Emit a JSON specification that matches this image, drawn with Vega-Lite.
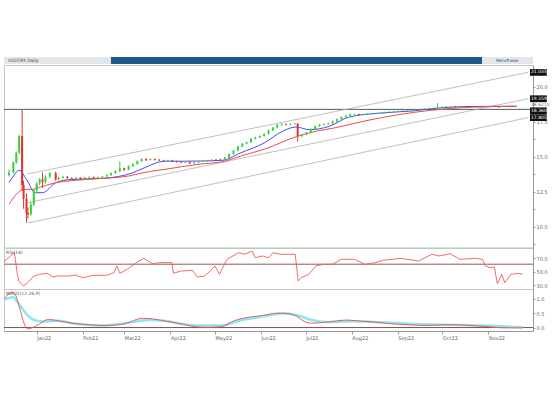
{
"$schema": "https://vega.github.io/schema/vega-lite/v6.json",
"padding": {"left": -2, "top": 57, "right": 0, "bottom": 0},
"background": "white",
"spacing": 0,
"config": {
  "font": "DejaVu Sans",
  "view": {"stroke": "#c4c4c4"},
  "axis": {"labelFontSize": 5, "labelColor": "#666666", "tickColor": "#999999", "domainColor": "#999999", "tickSize": 2, "grid": false, "title": null, "labelPadding": 1, "labelOverlap": false, "labelFlush": false}
},
"datasets": {
  "candles": [
    {"d":"2021-12-10","o":13.7,"h":14.1,"l":13.6,"c":13.9},
    {"d":"2021-12-13","o":13.9,"h":14.7,"l":13.8,"c":14.6},
    {"d":"2021-12-15","o":14.6,"h":15.4,"l":14.5,"c":15.3},
    {"d":"2021-12-17","o":15.3,"h":16.6,"l":15.2,"c":16.5},
    {"d":"2021-12-19","o":16.5,"h":18.36,"l":12.6,"c":13.0},
    {"d":"2021-12-20","o":13.0,"h":13.3,"l":11.3,"c":12.0},
    {"d":"2021-12-22","o":12.0,"h":12.4,"l":10.3,"c":11.0},
    {"d":"2021-12-23","o":11.0,"h":11.4,"l":10.6,"c":10.9},
    {"d":"2021-12-25","o":10.9,"h":11.8,"l":10.8,"c":11.6},
    {"d":"2021-12-27","o":11.6,"h":12.7,"l":11.5,"c":12.6},
    {"d":"2021-12-29","o":12.6,"h":13.2,"l":12.4,"c":13.1},
    {"d":"2021-12-31","o":13.1,"h":13.5,"l":13.0,"c":13.4},
    {"d":"2022-01-02","o":13.4,"h":13.9,"l":12.8,"c":13.2},
    {"d":"2022-01-04","o":13.2,"h":13.7,"l":13.1,"c":13.6},
    {"d":"2022-01-07","o":13.6,"h":13.9,"l":13.5,"c":13.85},
    {"d":"2022-01-11","o":13.85,"h":13.95,"l":13.3,"c":13.4},
    {"d":"2022-01-13","o":13.4,"h":13.6,"l":13.35,"c":13.5},
    {"d":"2022-01-16","o":13.5,"h":13.65,"l":13.45,"c":13.58},
    {"d":"2022-01-19","o":13.58,"h":13.65,"l":13.45,"c":13.5},
    {"d":"2022-01-22","o":13.5,"h":13.55,"l":13.4,"c":13.45},
    {"d":"2022-01-25","o":13.45,"h":13.58,"l":13.4,"c":13.52},
    {"d":"2022-01-28","o":13.52,"h":13.55,"l":13.38,"c":13.43},
    {"d":"2022-01-31","o":13.43,"h":13.58,"l":13.4,"c":13.52},
    {"d":"2022-02-03","o":13.52,"h":13.62,"l":13.48,"c":13.56},
    {"d":"2022-02-06","o":13.56,"h":13.6,"l":13.45,"c":13.5},
    {"d":"2022-02-09","o":13.5,"h":13.6,"l":13.47,"c":13.56},
    {"d":"2022-02-12","o":13.56,"h":13.66,"l":13.52,"c":13.61},
    {"d":"2022-02-15","o":13.61,"h":13.75,"l":13.58,"c":13.7},
    {"d":"2022-02-18","o":13.7,"h":13.9,"l":13.66,"c":13.85},
    {"d":"2022-02-21","o":13.85,"h":14.05,"l":13.8,"c":14.0},
    {"d":"2022-02-24","o":14.0,"h":14.7,"l":13.9,"c":14.2},
    {"d":"2022-02-27","o":14.2,"h":14.25,"l":14.0,"c":14.1},
    {"d":"2022-03-02","o":14.1,"h":14.4,"l":14.05,"c":14.35},
    {"d":"2022-03-05","o":14.35,"h":14.55,"l":14.3,"c":14.5},
    {"d":"2022-03-08","o":14.5,"h":14.75,"l":14.45,"c":14.7},
    {"d":"2022-03-11","o":14.7,"h":14.9,"l":14.65,"c":14.85},
    {"d":"2022-03-14","o":14.85,"h":14.9,"l":14.72,"c":14.78},
    {"d":"2022-03-17","o":14.78,"h":14.9,"l":14.75,"c":14.86},
    {"d":"2022-03-20","o":14.86,"h":14.9,"l":14.75,"c":14.8},
    {"d":"2022-03-23","o":14.8,"h":14.85,"l":14.7,"c":14.75},
    {"d":"2022-03-26","o":14.75,"h":14.8,"l":14.65,"c":14.7},
    {"d":"2022-03-29","o":14.7,"h":14.8,"l":14.66,"c":14.76},
    {"d":"2022-04-01","o":14.76,"h":14.8,"l":14.65,"c":14.7},
    {"d":"2022-04-04","o":14.7,"h":14.74,"l":14.6,"c":14.65},
    {"d":"2022-04-07","o":14.65,"h":14.7,"l":14.55,"c":14.6},
    {"d":"2022-04-10","o":14.6,"h":14.68,"l":14.55,"c":14.64},
    {"d":"2022-04-13","o":14.64,"h":14.66,"l":14.5,"c":14.55},
    {"d":"2022-04-16","o":14.55,"h":14.65,"l":14.52,"c":14.6},
    {"d":"2022-04-19","o":14.6,"h":14.7,"l":14.56,"c":14.65},
    {"d":"2022-04-22","o":14.65,"h":14.75,"l":14.62,"c":14.7},
    {"d":"2022-04-25","o":14.7,"h":14.8,"l":14.66,"c":14.75},
    {"d":"2022-04-28","o":14.75,"h":14.85,"l":14.7,"c":14.8},
    {"d":"2022-05-01","o":14.8,"h":14.86,"l":14.74,"c":14.78},
    {"d":"2022-05-04","o":14.78,"h":14.9,"l":14.75,"c":14.85},
    {"d":"2022-05-07","o":14.85,"h":15.0,"l":14.8,"c":14.95},
    {"d":"2022-05-10","o":14.95,"h":15.25,"l":14.9,"c":15.2},
    {"d":"2022-05-13","o":15.2,"h":15.5,"l":15.15,"c":15.45},
    {"d":"2022-05-16","o":15.45,"h":15.8,"l":15.4,"c":15.75},
    {"d":"2022-05-19","o":15.75,"h":16.0,"l":15.7,"c":15.95},
    {"d":"2022-05-22","o":15.95,"h":16.1,"l":15.9,"c":16.05},
    {"d":"2022-05-25","o":16.05,"h":16.35,"l":16.0,"c":16.3},
    {"d":"2022-05-28","o":16.3,"h":16.45,"l":16.25,"c":16.4},
    {"d":"2022-05-31","o":16.4,"h":16.55,"l":16.35,"c":16.5},
    {"d":"2022-06-03","o":16.5,"h":16.7,"l":16.45,"c":16.65},
    {"d":"2022-06-06","o":16.65,"h":16.95,"l":16.6,"c":16.9},
    {"d":"2022-06-09","o":16.9,"h":17.15,"l":16.85,"c":17.1},
    {"d":"2022-06-12","o":17.1,"h":17.35,"l":17.05,"c":17.3},
    {"d":"2022-06-15","o":17.3,"h":17.42,"l":17.25,"c":17.35},
    {"d":"2022-06-18","o":17.35,"h":17.4,"l":17.25,"c":17.3},
    {"d":"2022-06-21","o":17.3,"h":17.4,"l":17.26,"c":17.35},
    {"d":"2022-06-24","o":17.35,"h":17.42,"l":17.3,"c":17.38},
    {"d":"2022-06-26","o":17.38,"h":17.4,"l":16.1,"c":16.5},
    {"d":"2022-06-29","o":16.5,"h":16.65,"l":16.4,"c":16.6},
    {"d":"2022-07-02","o":16.6,"h":16.8,"l":16.55,"c":16.75},
    {"d":"2022-07-05","o":16.75,"h":17.05,"l":16.7,"c":17.0},
    {"d":"2022-07-08","o":17.0,"h":17.25,"l":16.95,"c":17.2},
    {"d":"2022-07-11","o":17.2,"h":17.35,"l":17.15,"c":17.3},
    {"d":"2022-07-14","o":17.3,"h":17.4,"l":17.26,"c":17.35},
    {"d":"2022-07-17","o":17.35,"h":17.45,"l":17.3,"c":17.4},
    {"d":"2022-07-20","o":17.4,"h":17.6,"l":17.36,"c":17.55},
    {"d":"2022-07-23","o":17.55,"h":17.75,"l":17.5,"c":17.7},
    {"d":"2022-07-26","o":17.7,"h":17.9,"l":17.65,"c":17.85},
    {"d":"2022-07-29","o":17.85,"h":18.0,"l":17.8,"c":17.95},
    {"d":"2022-08-01","o":17.95,"h":18.1,"l":17.9,"c":18.05},
    {"d":"2022-08-04","o":18.05,"h":18.1,"l":17.98,"c":18.06},
    {"d":"2022-08-07","o":18.06,"h":18.08,"l":17.95,"c":18.0},
    {"d":"2022-08-10","o":18.0,"h":18.1,"l":17.97,"c":18.05},
    {"d":"2022-08-13","o":18.05,"h":18.14,"l":18.02,"c":18.1},
    {"d":"2022-08-16","o":18.1,"h":18.14,"l":18.05,"c":18.11},
    {"d":"2022-08-19","o":18.11,"h":18.16,"l":18.06,"c":18.12},
    {"d":"2022-08-22","o":18.12,"h":18.18,"l":18.08,"c":18.15},
    {"d":"2022-08-25","o":18.15,"h":18.24,"l":18.12,"c":18.2},
    {"d":"2022-08-28","o":18.2,"h":18.26,"l":18.17,"c":18.22},
    {"d":"2022-08-31","o":18.22,"h":18.29,"l":18.19,"c":18.25},
    {"d":"2022-09-03","o":18.25,"h":18.32,"l":18.22,"c":18.28},
    {"d":"2022-09-06","o":18.28,"h":18.34,"l":18.25,"c":18.3},
    {"d":"2022-09-09","o":18.3,"h":18.37,"l":18.27,"c":18.33},
    {"d":"2022-09-12","o":18.33,"h":18.4,"l":18.3,"c":18.36},
    {"d":"2022-09-15","o":18.36,"h":18.42,"l":18.33,"c":18.38},
    {"d":"2022-09-18","o":18.38,"h":18.46,"l":18.35,"c":18.42},
    {"d":"2022-09-21","o":18.42,"h":18.49,"l":18.39,"c":18.45},
    {"d":"2022-09-24","o":18.45,"h":18.52,"l":18.42,"c":18.48},
    {"d":"2022-09-27","o":18.48,"h":18.54,"l":18.45,"c":18.5},
    {"d":"2022-09-30","o":18.5,"h":18.85,"l":18.45,"c":18.55},
    {"d":"2022-10-03","o":18.55,"h":18.62,"l":18.52,"c":18.58},
    {"d":"2022-10-06","o":18.58,"h":18.64,"l":18.55,"c":18.6},
    {"d":"2022-10-09","o":18.6,"h":18.64,"l":18.56,"c":18.61},
    {"d":"2022-10-12","o":18.61,"h":18.63,"l":18.54,"c":18.57},
    {"d":"2022-10-15","o":18.57,"h":18.63,"l":18.55,"c":18.6},
    {"d":"2022-10-18","o":18.6,"h":18.64,"l":18.56,"c":18.61},
    {"d":"2022-10-21","o":18.61,"h":18.65,"l":18.57,"c":18.59},
    {"d":"2022-10-24","o":18.59,"h":18.66,"l":18.58,"c":18.62},
    {"d":"2022-10-27","o":18.62,"h":18.64,"l":18.56,"c":18.59},
    {"d":"2022-10-30","o":18.59,"h":18.63,"l":18.55,"c":18.57},
    {"d":"2022-11-02","o":18.57,"h":18.64,"l":18.56,"c":18.61},
    {"d":"2022-11-05","o":18.61,"h":18.66,"l":18.58,"c":18.62},
    {"d":"2022-11-08","o":18.62,"h":18.66,"l":18.57,"c":18.6},
    {"d":"2022-11-11","o":18.6,"h":18.64,"l":18.5,"c":18.57},
    {"d":"2022-11-14","o":18.57,"h":18.64,"l":18.56,"c":18.62},
    {"d":"2022-11-17","o":18.62,"h":18.66,"l":18.59,"c":18.63},
    {"d":"2022-11-20","o":18.63,"h":18.66,"l":18.58,"c":18.61},
    {"d":"2022-11-23","o":18.61,"h":18.66,"l":18.59,"c":18.63}
  ],
  "ma": [
    {"s":"fast","d":"2021-12-10","v":13.16},{"s":"fast","d":"2021-12-13","v":13.64},{"s":"fast","d":"2021-12-17","v":14.05},
    {"s":"fast","d":"2021-12-22","v":13.4},{"s":"fast","d":"2021-12-28","v":12.45},{"s":"fast","d":"2022-01-02","v":12.45},
    {"s":"fast","d":"2022-01-11","v":13.16},{"s":"fast","d":"2022-01-22","v":13.4},{"s":"fast","d":"2022-02-13","v":13.48},
    {"s":"fast","d":"2022-03-05","v":13.88},{"s":"fast","d":"2022-03-12","v":14.19},{"s":"fast","d":"2022-03-27","v":14.7},
    {"s":"fast","d":"2022-04-10","v":14.7},{"s":"fast","d":"2022-05-05","v":14.76},{"s":"fast","d":"2022-05-18","v":15.3},
    {"s":"fast","d":"2022-06-03","v":16.0},{"s":"fast","d":"2022-06-16","v":16.86},{"s":"fast","d":"2022-06-25","v":17.14},
    {"s":"fast","d":"2022-07-04","v":16.95},{"s":"fast","d":"2022-07-18","v":17.2},{"s":"fast","d":"2022-07-31","v":17.85},
    {"s":"fast","d":"2022-08-22","v":18.14},{"s":"fast","d":"2022-09-14","v":18.3},{"s":"fast","d":"2022-09-29","v":18.48},
    {"s":"fast","d":"2022-10-18","v":18.6},{"s":"fast","d":"2022-11-09","v":18.62},{"s":"fast","d":"2022-11-23","v":18.62},
    {"s":"slow","d":"2021-12-10","v":11.62},{"s":"slow","d":"2021-12-15","v":12.33},{"s":"slow","d":"2021-12-20","v":12.69},
    {"s":"slow","d":"2021-12-26","v":12.69},{"s":"slow","d":"2021-12-30","v":12.81},{"s":"slow","d":"2022-01-11","v":13.16},
    {"s":"slow","d":"2022-02-02","v":13.4},{"s":"slow","d":"2022-03-02","v":13.64},{"s":"slow","d":"2022-03-12","v":13.88},
    {"s":"slow","d":"2022-03-27","v":14.12},{"s":"slow","d":"2022-04-19","v":14.48},{"s":"slow","d":"2022-05-07","v":14.7},
    {"s":"slow","d":"2022-05-18","v":15.07},{"s":"slow","d":"2022-06-03","v":15.55},{"s":"slow","d":"2022-06-25","v":16.45},
    {"s":"slow","d":"2022-07-09","v":16.85},{"s":"slow","d":"2022-07-20","v":17.05},{"s":"slow","d":"2022-08-11","v":17.57},
    {"s":"slow","d":"2022-09-03","v":18.02},{"s":"slow","d":"2022-09-25","v":18.33},{"s":"slow","d":"2022-10-18","v":18.53},
    {"s":"slow","d":"2022-11-09","v":18.6},{"s":"slow","d":"2022-11-23","v":18.62}
  ],
  "channel": [
    {"k":"upper","d":"2021-12-23","v":13.79},{"k":"upper","d":"2022-12-01","v":21.04},
    {"k":"middle","d":"2021-12-23","v":11.74},{"k":"middle","d":"2022-12-01","v":19.16},
    {"k":"lower","d":"2021-12-23","v":10.29},{"k":"lower","d":"2022-12-01","v":17.81}
  ],
  "tags": [
    {"t":"21.0356","v":21.04},{"t":"19.1595","v":19.16},{"t":"18.3600","v":18.3},{"t":"17.8057","v":17.81}
  ],
  "price": [{"t":"18.6215","v":18.72}],
  "rsi": [
    {"d":"2021-12-10","v":64.7},{"d":"2021-12-17","v":77.9},{"d":"2021-12-19","v":46.2},{"d":"2021-12-20","v":36.4},
    {"d":"2021-12-23","v":29},{"d":"2021-12-26","v":33.9},{"d":"2021-12-30","v":43.7},{"d":"2022-01-03","v":46.2},
    {"d":"2022-01-08","v":47.6},{"d":"2022-01-12","v":42.2},{"d":"2022-01-15","v":43.7},{"d":"2022-01-22","v":43.7},
    {"d":"2022-01-27","v":45.2},{"d":"2022-02-01","v":41.2},{"d":"2022-02-08","v":44.7},{"d":"2022-02-17","v":44.7},
    {"d":"2022-02-22","v":48.6},{"d":"2022-02-24","v":58.4},{"d":"2022-02-26","v":47.6},{"d":"2022-03-03","v":53.5},
    {"d":"2022-03-10","v":64.7},{"d":"2022-03-14","v":69.6},{"d":"2022-03-20","v":61.8},{"d":"2022-03-25","v":63.3},
    {"d":"2022-03-30","v":63.3},{"d":"2022-04-02","v":63.3},{"d":"2022-04-03","v":47.6},{"d":"2022-04-08","v":51},
    {"d":"2022-04-16","v":52},{"d":"2022-04-19","v":42.2},{"d":"2022-04-24","v":43.7},{"d":"2022-04-29","v":53.5},
    {"d":"2022-05-01","v":58.4},{"d":"2022-05-04","v":46.2},{"d":"2022-05-09","v":68.1},{"d":"2022-05-17","v":77.9},
    {"d":"2022-05-21","v":75.5},{"d":"2022-05-26","v":80.3},{"d":"2022-05-28","v":70.5},{"d":"2022-06-02","v":73},
    {"d":"2022-06-06","v":70.5},{"d":"2022-06-09","v":77.9},{"d":"2022-06-14","v":75.5},{"d":"2022-06-24","v":75.5},
    {"d":"2022-06-26","v":36.4},{"d":"2022-06-28","v":41.2},{"d":"2022-07-03","v":46.2},{"d":"2022-07-08","v":58.4},
    {"d":"2022-07-13","v":60.8},{"d":"2022-07-19","v":60.8},{"d":"2022-07-25","v":68.1},{"d":"2022-08-03","v":68.1},
    {"d":"2022-08-10","v":60.8},{"d":"2022-08-17","v":63.3},{"d":"2022-08-22","v":66.7},{"d":"2022-09-03","v":69.6},
    {"d":"2022-09-15","v":65.7},{"d":"2022-09-24","v":75.5},{"d":"2022-09-29","v":73},{"d":"2022-10-06","v":76.4},
    {"d":"2022-10-13","v":68.1},{"d":"2022-10-23","v":69.6},{"d":"2022-10-28","v":68.1},{"d":"2022-10-30","v":58.4},
    {"d":"2022-11-02","v":55.9},{"d":"2022-11-05","v":56.9},{"d":"2022-11-07","v":32.4},{"d":"2022-11-10","v":46.2},
    {"d":"2022-11-12","v":33.9},{"d":"2022-11-16","v":46.2},{"d":"2022-11-21","v":47.6},{"d":"2022-11-24","v":46.2}
  ],
  "macd": [
    {"s":"macd","d":"2021-12-10","v":1.0},{"s":"macd","d":"2021-12-16","v":1.23},{"s":"macd","d":"2021-12-26","v":-0.05},
    {"s":"macd","d":"2022-01-01","v":0.07},{"s":"macd","d":"2022-01-09","v":0.28},{"s":"macd","d":"2022-01-15","v":0.24},
    {"s":"macd","d":"2022-01-25","v":0.15},{"s":"macd","d":"2022-02-06","v":0.1},{"s":"macd","d":"2022-02-17","v":0.07},
    {"s":"macd","d":"2022-03-01","v":0.13},{"s":"macd","d":"2022-03-13","v":0.32},{"s":"macd","d":"2022-03-20","v":0.3},
    {"s":"macd","d":"2022-03-30","v":0.21},{"s":"macd","d":"2022-04-06","v":0.15},{"s":"macd","d":"2022-04-18","v":0.03},
    {"s":"macd","d":"2022-04-25","v":0.01},{"s":"macd","d":"2022-05-05","v":0.03},{"s":"macd","d":"2022-05-14","v":0.24},
    {"s":"macd","d":"2022-05-24","v":0.36},{"s":"macd","d":"2022-06-02","v":0.42},{"s":"macd","d":"2022-06-12","v":0.5},
    {"s":"macd","d":"2022-06-19","v":0.48},{"s":"macd","d":"2022-06-24","v":0.42},{"s":"macd","d":"2022-07-01","v":0.19},
    {"s":"macd","d":"2022-07-05","v":0.15},{"s":"macd","d":"2022-07-15","v":0.19},{"s":"macd","d":"2022-07-29","v":0.26},
    {"s":"macd","d":"2022-08-08","v":0.22},{"s":"macd","d":"2022-08-17","v":0.19},{"s":"macd","d":"2022-08-27","v":0.13},
    {"s":"macd","d":"2022-09-08","v":0.1},{"s":"macd","d":"2022-09-20","v":0.07},{"s":"macd","d":"2022-10-06","v":0.1},
    {"s":"macd","d":"2022-10-21","v":0.07},{"s":"macd","d":"2022-11-01","v":0.03},{"s":"macd","d":"2022-11-11","v":-0.01},
    {"s":"macd","d":"2022-11-24","v":-0.01},
    {"s":"signal","d":"2021-12-10","v":0.96},{"s":"signal","d":"2021-12-16","v":1.05},{"s":"signal","d":"2021-12-20","v":0.82},
    {"s":"signal","d":"2021-12-26","v":0.42},{"s":"signal","d":"2022-01-01","v":0.24},{"s":"signal","d":"2022-01-08","v":0.21},
    {"s":"signal","d":"2022-01-15","v":0.24},{"s":"signal","d":"2022-01-25","v":0.15},{"s":"signal","d":"2022-02-13","v":0.07},
    {"s":"signal","d":"2022-02-27","v":0.13},{"s":"signal","d":"2022-03-18","v":0.26},{"s":"signal","d":"2022-03-28","v":0.24},
    {"s":"signal","d":"2022-04-06","v":0.15},{"s":"signal","d":"2022-04-20","v":0.07},{"s":"signal","d":"2022-05-05","v":0.07},
    {"s":"signal","d":"2022-05-19","v":0.26},{"s":"signal","d":"2022-06-02","v":0.38},{"s":"signal","d":"2022-06-16","v":0.5},
    {"s":"signal","d":"2022-06-26","v":0.42},{"s":"signal","d":"2022-07-05","v":0.26},{"s":"signal","d":"2022-07-15","v":0.19},
    {"s":"signal","d":"2022-08-03","v":0.22},{"s":"signal","d":"2022-08-17","v":0.19},{"s":"signal","d":"2022-09-08","v":0.13},
    {"s":"signal","d":"2022-10-03","v":0.1},{"s":"signal","d":"2022-11-01","v":0.07},{"s":"signal","d":"2022-11-24","v":0.01}
  ]
},
"vconcat": [
  {
    "hconcat": [
      {
        "width": 107, "height": 7,
        "view": {"fill": "#e4e6e9", "stroke": null},
        "data": {"values": [{"t": "USDTRY,Daily"}]},
        "mark": {"type": "text", "fontSize": 4.5, "color": "#444444", "align": "left", "baseline": "middle", "x": 4, "y": 3.5},
        "encoding": {"text": {"field": "t"}}
      },
      {
        "width": 371, "height": 7,
        "view": {"fill": "#1d5a88", "stroke": null},
        "data": {"values": [{"t": ""}]},
        "mark": {"type": "text", "fontSize": 5, "color": "#ffffff"},
        "encoding": {"text": {"field": "t"}}
      },
      {
        "width": 51, "height": 7,
        "view": {"fill": "#e4e6e9", "stroke": null},
        "data": {"values": [{"t": "MetaTrader"}]},
        "mark": {"type": "text", "fontSize": 4, "color": "#335577", "align": "center", "baseline": "middle"},
        "encoding": {"text": {"field": "t"}}
      }
    ],
    "spacing": 0,
    "bounds": "flush"
  },
  {
    "spacing": 0,
    "bounds": "flush",
    "vconcat": [
      {
        "width": 529, "height": 183,
        "layer": [
          {
            "data": {"values": [{"level": 18.4}]},
            "mark": {"type": "rule", "color": "#5a5a5a", "strokeWidth": 1},
            "encoding": {"y": {"field": "level", "type": "quantitative", "scale": {"domain": [8.5, 21.57], "nice": false, "zero": false},
              "axis": {"orient": "right", "labelOverlap": false, "tickCount": 30, "values": [8.75, 10, 11.25, 12.5, 13.75, 15, 16.25, 17.5, 18.75, 20, 21.25], "labelExpr": "datum.value % 2.5 == 0 ? format(datum.value, '.1f') : ''"}}}
          },
          {
            "data": {"name": "channel"},
            "mark": {"type": "line", "color": "#b0b0b0", "strokeWidth": 0.8},
            "encoding": {
              "x": {"field": "d", "type": "temporal", "scale": {"type": "utc", "domain": [{"year": 2021, "month": 12, "date": 10, "utc": true}, {"year": 2022, "month": 12, "date": 1, "utc": true}]}, "axis": null},
              "y": {"field": "v", "type": "quantitative", "scale": {"domain": [8.5, 21.57], "nice": false, "zero": false}},
              "detail": {"field": "k"}
            }
          },
          {
            "data": {"name": "ma"},
            "mark": {"type": "line", "strokeWidth": 1, "interpolate": "monotone"},
            "encoding": {
              "x": {"field": "d", "type": "temporal", "scale": {"type": "utc", "domain": [{"year": 2021, "month": 12, "date": 10, "utc": true}, {"year": 2022, "month": 12, "date": 1, "utc": true}]}, "axis": null},
              "y": {"field": "v", "type": "quantitative", "scale": {"domain": [8.5, 21.57], "nice": false, "zero": false}},
              "color": {"field": "s", "type": "nominal", "scale": {"domain": ["fast", "slow"], "range": ["#3d4ef0", "#f04a4a"]}, "legend": null}
            }
          },
          {
            "data": {"name": "candles"},
            "mark": {"type": "rule", "strokeWidth": 1, "clip": true},
            "encoding": {
              "x": {"field": "d", "type": "temporal", "scale": {"type": "utc", "domain": [{"year": 2021, "month": 12, "date": 10, "utc": true}, {"year": 2022, "month": 12, "date": 1, "utc": true}]}, "axis": null},
              "y": {"field": "l", "type": "quantitative", "scale": {"domain": [8.5, 21.57], "nice": false, "zero": false}},
              "y2": {"field": "h"},
              "color": {"condition": {"test": "datum.c >= datum.o", "value": "#3ad03a"}, "value": "#e03232"}
            }
          },
          {
            "data": {"name": "candles"},
            "mark": {"type": "bar", "size": 2, "clip": true},
            "encoding": {
              "x": {"field": "d", "type": "temporal", "scale": {"type": "utc", "domain": [{"year": 2021, "month": 12, "date": 10, "utc": true}, {"year": 2022, "month": 12, "date": 1, "utc": true}]}, "axis": null},
              "y": {"field": "o", "type": "quantitative", "scale": {"domain": [8.5, 21.57], "nice": false, "zero": false}},
              "y2": {"field": "c"},
              "color": {"condition": {"test": "datum.c >= datum.o", "value": "#3ad03a"}, "value": "#e03232"}
            }
          },
          {
            "data": {"values": [{"level": 8.5}]},
            "mark": {"type": "rule", "color": "#98d898", "strokeWidth": 1.2},
            "encoding": {"y": {"field": "level", "type": "quantitative", "scale": {"domain": [8.5, 21.57], "nice": false, "zero": false}}}
          },
          {
            "data": {"name": "tags"},
            "mark": {"type": "point", "shape": "M0,-0.42H2.1V0.42H0Z", "filled": true, "color": "#111111", "opacity": 1, "size": 256, "xOffset": 2},
            "encoding": {
              "x": {"datum": {"year": 2022, "month": 12, "date": 1, "utc": true}, "type": "temporal", "scale": {"type": "utc", "domain": [{"year": 2021, "month": 12, "date": 10, "utc": true}, {"year": 2022, "month": 12, "date": 1, "utc": true}]}},
              "y": {"field": "v", "type": "quantitative", "scale": {"domain": [8.5, 21.57], "nice": false, "zero": false}}
            }
          },
          {
            "data": {"name": "tags"},
            "mark": {"type": "text", "fontSize": 4.5, "color": "#ffffff", "align": "left", "dx": 3, "baseline": "middle"},
            "encoding": {
              "x": {"datum": {"year": 2022, "month": 12, "date": 1, "utc": true}, "type": "temporal", "scale": {"type": "utc", "domain": [{"year": 2021, "month": 12, "date": 10, "utc": true}, {"year": 2022, "month": 12, "date": 1, "utc": true}]}},
              "y": {"field": "v", "type": "quantitative", "scale": {"domain": [8.5, 21.57], "nice": false, "zero": false}},
              "text": {"field": "t"}
            }
          },
          {
            "data": {"name": "price"},
            "mark": {"type": "text", "fontSize": 4.5, "color": "#777777", "align": "left", "dx": 3, "baseline": "middle"},
            "encoding": {
              "x": {"datum": {"year": 2022, "month": 12, "date": 1, "utc": true}, "type": "temporal", "scale": {"type": "utc", "domain": [{"year": 2021, "month": 12, "date": 10, "utc": true}, {"year": 2022, "month": 12, "date": 1, "utc": true}]}},
              "y": {"field": "v", "type": "quantitative", "scale": {"domain": [8.5, 21.57], "nice": false, "zero": false}},
              "text": {"field": "t"}
            }
          }
        ]
      },
      {
        "width": 529, "height": 41,
        "layer": [
          {
            "data": {"values": [{"level": 61}]},
            "mark": {"type": "rule", "color": "#8c5858", "strokeWidth": 1},
            "encoding": {"y": {"field": "level", "type": "quantitative", "scale": {"domain": [24.7, 84.7], "nice": false, "zero": false},
              "axis": {"orient": "right", "labelOverlap": false, "tickCount": 10, "values": [30, 50, 70], "format": ".1f"}}}
          },
          {
            "data": {"name": "rsi"},
            "mark": {"type": "line", "color": "#f05a5a", "strokeWidth": 0.9},
            "encoding": {
              "x": {"field": "d", "type": "temporal", "scale": {"type": "utc", "domain": [{"year": 2021, "month": 12, "date": 10, "utc": true}, {"year": 2022, "month": 12, "date": 1, "utc": true}]}, "axis": null},
              "y": {"field": "v", "type": "quantitative", "scale": {"domain": [24.7, 84.7], "nice": false, "zero": false}}
            }
          },
          {
            "data": {"values": [{"t": "RSI(14)"}]},
            "mark": {"type": "text", "fontSize": 4.5, "color": "#555555", "align": "left", "baseline": "top", "dx": 2, "dy": 2},
            "encoding": {
              "x": {"datum": {"year": 2021, "month": 12, "date": 10, "utc": true}, "type": "temporal", "scale": {"type": "utc", "domain": [{"year": 2021, "month": 12, "date": 10, "utc": true}, {"year": 2022, "month": 12, "date": 1, "utc": true}]}},
              "y": {"datum": 84.7, "type": "quantitative", "scale": {"domain": [24.7, 84.7], "nice": false, "zero": false}},
              "text": {"field": "t"}
            }
          }
        ]
      },
      {
        "width": 529, "height": 42,
        "layer": [
          {
            "data": {"values": [{"level": 0}]},
            "mark": {"type": "rule", "color": "#7a5252", "strokeWidth": 1},
            "encoding": {"y": {"field": "level", "type": "quantitative", "scale": {"domain": [-0.12, 1.34], "nice": false, "zero": false},
              "axis": {"orient": "right", "labelOverlap": false, "tickCount": 10, "values": [0, 0.5, 1], "format": ".1f"}}}
          },
          {
            "data": {"name": "macd"},
            "transform": [{"filter": "datum.s == 'signal'"}],
            "mark": {"type": "line", "color": "#8ae8f4", "strokeWidth": 2.5, "interpolate": "monotone"},
            "encoding": {
              "x": {"field": "d", "type": "temporal", "scale": {"type": "utc", "domain": [{"year": 2021, "month": 12, "date": 10, "utc": true}, {"year": 2022, "month": 12, "date": 1, "utc": true}]},
                "axis": {"orient": "bottom", "format": "%b%y", "labelAlign": "left", "labelPadding": 1, "tickSize": 3, "labelFontSize": 5, "labelOverlap": false, "tickCount": 20,
                  "values": [{"year": 2022, "month": 1, "date": 1, "utc": true}, {"year": 2022, "month": 2, "date": 1, "utc": true}, {"year": 2022, "month": 3, "date": 1, "utc": true}, {"year": 2022, "month": 4, "date": 1, "utc": true}, {"year": 2022, "month": 5, "date": 1, "utc": true}, {"year": 2022, "month": 6, "date": 1, "utc": true}, {"year": 2022, "month": 7, "date": 1, "utc": true}, {"year": 2022, "month": 8, "date": 1, "utc": true}, {"year": 2022, "month": 9, "date": 1, "utc": true}, {"year": 2022, "month": 10, "date": 1, "utc": true}, {"year": 2022, "month": 11, "date": 1, "utc": true}]}},
              "y": {"field": "v", "type": "quantitative", "scale": {"domain": [-0.12, 1.34], "nice": false, "zero": false}}
            }
          },
          {
            "data": {"name": "macd"},
            "transform": [{"filter": "datum.s == 'macd'"}],
            "mark": {"type": "line", "color": "#f05a5a", "strokeWidth": 1, "interpolate": "monotone"},
            "encoding": {
              "x": {"field": "d", "type": "temporal", "scale": {"type": "utc", "domain": [{"year": 2021, "month": 12, "date": 10, "utc": true}, {"year": 2022, "month": 12, "date": 1, "utc": true}]}},
              "y": {"field": "v", "type": "quantitative", "scale": {"domain": [-0.12, 1.34], "nice": false, "zero": false}}
            }
          },
          {
            "data": {"values": [{"t": "MACD(12,26,9)"}]},
            "mark": {"type": "text", "fontSize": 4.5, "color": "#555555", "align": "left", "baseline": "top", "dx": 2, "dy": 2},
            "encoding": {
              "x": {"datum": {"year": 2021, "month": 12, "date": 10, "utc": true}, "type": "temporal", "scale": {"type": "utc", "domain": [{"year": 2021, "month": 12, "date": 10, "utc": true}, {"year": 2022, "month": 12, "date": 1, "utc": true}]}},
              "y": {"datum": 1.34, "type": "quantitative", "scale": {"domain": [-0.12, 1.34], "nice": false, "zero": false}},
              "text": {"field": "t"}
            }
          }
        ]
      }
    ]
  }
]
}
